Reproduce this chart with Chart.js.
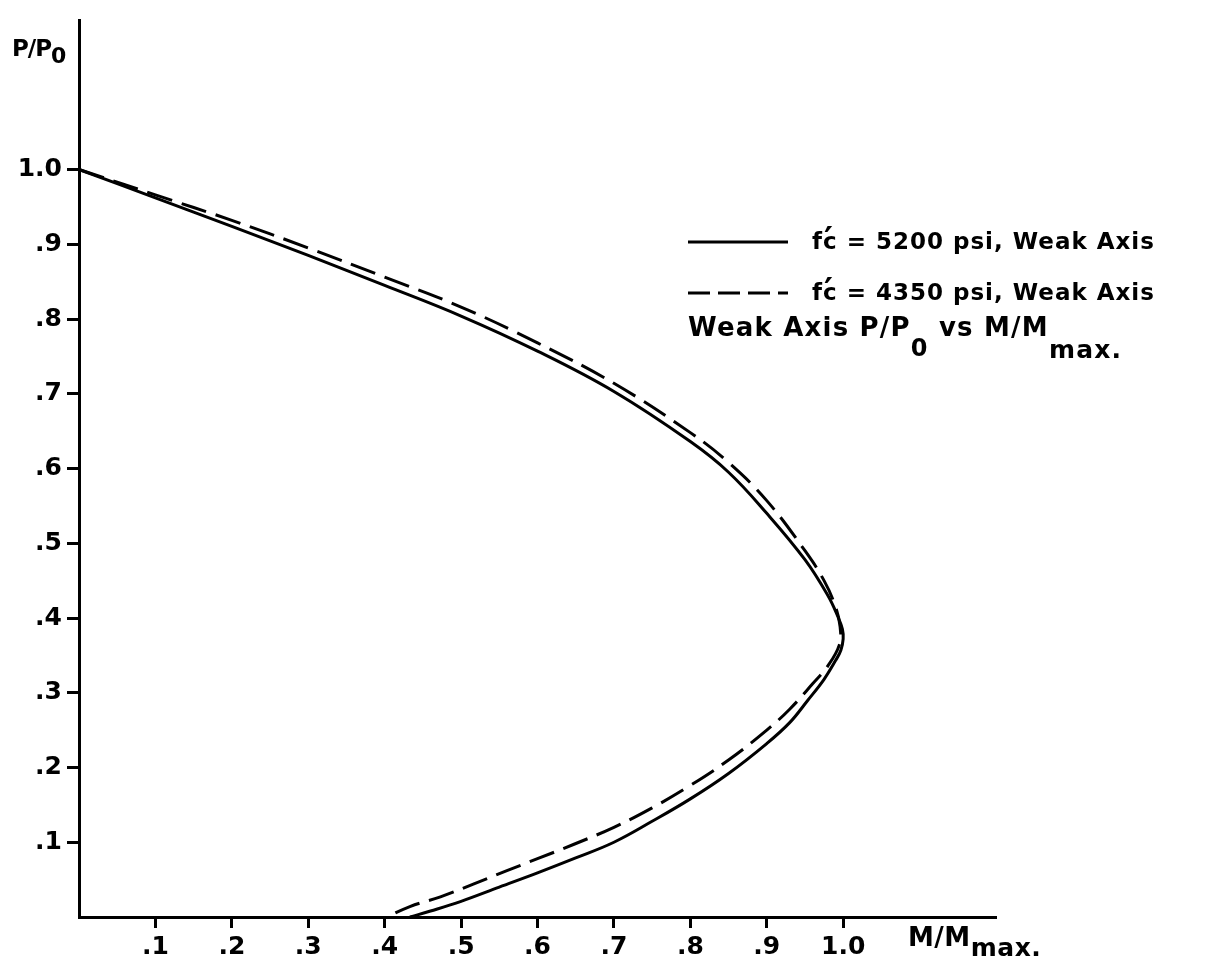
<!DOCTYPE html>
<html><head><meta charset="utf-8">
<script src="https://cdn.jsdelivr.net/npm/chart.js@4.4.1/dist/chart.umd.min.js"></script>
<style>html,body{margin:0;padding:0;background:#fff}#wrap{position:relative;width:1219px;height:963px}</style>
</head><body><div id="wrap"><canvas id="c" width="1219" height="963"></canvas></div>
<script>
// ---- data ----
const solidM  = [0.000, 0.100, 0.200, 0.300, 0.400, 0.500, 0.600, 0.700, 0.800, 0.850, 0.900, 0.950, 0.980, 0.993, 0.999, 1.000, 0.997, 0.990, 0.975, 0.953, 0.930, 0.900, 0.850, 0.800, 0.750, 0.700, 0.650, 0.600, 0.550, 0.500, 0.460, 0.433];
const solidP  = [1.000, 0.962, 0.924, 0.885, 0.845, 0.804, 0.757, 0.703, 0.636, 0.595, 0.540, 0.478, 0.430, 0.402, 0.385, 0.372, 0.357, 0.343, 0.318, 0.289, 0.260, 0.232, 0.192, 0.158, 0.128, 0.100, 0.079, 0.059, 0.040, 0.021, 0.008, 0.000];
const dashedM = [0.000, 0.100, 0.200, 0.300, 0.400, 0.500, 0.600, 0.700, 0.800, 0.850, 0.900, 0.950, 0.975, 0.990, 0.996, 0.995, 0.980, 0.960, 0.930, 0.900, 0.850, 0.800, 0.750, 0.700, 0.647, 0.600, 0.560, 0.516, 0.473, 0.433, 0.403];
const dashedP = [1.000, 0.966, 0.932, 0.895, 0.856, 0.816, 0.768, 0.714, 0.648, 0.608, 0.557, 0.490, 0.450, 0.415, 0.388, 0.364, 0.336, 0.312, 0.278, 0.250, 0.210, 0.176, 0.146, 0.120, 0.097, 0.078, 0.062, 0.044, 0.027, 0.014, 0.000];
const seriesLabels = ['f′c = 5200 psi, Weak Axis', 'f′c = 4350 psi, Weak Axis'];
const tickValues = [0.1, 0.2, 0.3, 0.4, 0.5, 0.6, 0.7, 0.8, 0.9, 1.0];
const xTickLabels = ['.1', '.2', '.3', '.4', '.5', '.6', '.7', '.8', '.9', '1.0'];
const yTickLabels = ['.1', '.2', '.3', '.4', '.5', '.6', '.7', '.8', '.9', '1.0'];
const yTitle = ['P/P', '0'];
const xTitle = ['M/M', 'max.'];
const noteText = ['Weak Axis P/P', '0', ' vs M/M', 'max.'];

const FONT = '"DejaVu Sans", sans-serif';
function toPts(xs, ys) { return xs.map((x, i) => ({ x: x, y: ys[i] })); }
function labelFor(list) {
  return function (v) {
    const i = tickValues.findIndex(t => Math.abs(t - v) < 1e-6);
    return i < 0 ? '' : list[i];
  };
}
function tickCol(ctx) {
  const v = ctx.tick ? ctx.tick.value : 0;
  return tickValues.some(t => Math.abs(t - v) < 1e-6) ? '#000' : 'rgba(0,0,0,0)';
}

function drawRun(ctx, pieces, x, y, spacing) {
  ctx.letterSpacing = spacing + 'px';
  let cx = x;
  for (const p of pieces) {
    ctx.font = 'bold ' + p[2] + 'px ' + FONT;
    ctx.fillText(p[0], cx, y + p[1]);
    cx += ctx.measureText(p[0]).width;
  }
  ctx.letterSpacing = '0px';
  return cx;
}
function drawPrimeLabel(ctx, text, x, y, size, spacing) {
  const parts = text.split('′');
  ctx.letterSpacing = spacing + 'px';
  ctx.font = 'bold ' + size + 'px ' + FONT;
  ctx.fillText(parts[0], x, y);
  const cx = x + ctx.measureText(parts[0]).width;
  ctx.fillText(parts[1], cx, y);
  ctx.letterSpacing = '0px';
  ctx.font = 'bold 34px ' + FONT;
  ctx.fillText('′', cx + 1, y + 2);
}

const textPlugin = {
  id: 'textPlugin',
  afterDraw(chart) {
    const ctx = chart.ctx;
    ctx.save();
    ctx.fillStyle = '#000';
    ctx.textBaseline = 'alphabetic';
    ctx.textAlign = 'left';
    const rows = [242, 293];
    chart.data.datasets.forEach((ds, i) => {
      ctx.save();
      ctx.strokeStyle = ds.borderColor;
      ctx.lineWidth = ds.borderWidth;
      ctx.setLineDash(ds.borderDash ? [22, 8] : []);
      ctx.beginPath();
      ctx.moveTo(688, rows[i]);
      ctx.lineTo(788, rows[i]);
      ctx.stroke();
      ctx.restore();
      drawPrimeLabel(ctx, ds.label, 812, rows[i] + 7, 23, 1);
    });
    drawRun(ctx, [[noteText[0], 0, 26], [noteText[1], 20, 24], [noteText[2], 0, 26], [noteText[3], 22, 25]], 688, 336, 1.2);
    drawRun(ctx, [[yTitle[0], 0, 23], [yTitle[1], 7, 22]], 12, 56, -1);
    drawRun(ctx, [[xTitle[0], 0, 26], [xTitle[1], 10, 25]], 908, 946, 0.5);
    ctx.restore();
  }
};

new Chart(document.getElementById('c'), {
  type: 'scatter',
  data: {
    datasets: [
      { label: seriesLabels[0], data: toPts(solidM, solidP), showLine: true, borderColor: '#000', borderWidth: 3, pointRadius: 0, tension: 0.4, clip: false, fill: false },
      { label: seriesLabels[1], data: toPts(dashedM, dashedP), showLine: true, borderColor: '#000', borderWidth: 3, borderDash: [26, 10], pointRadius: 0, tension: 0.4, clip: false, fill: false }
    ]
  },
  options: {
    responsive: false,
    animation: false,
    events: [],
    layout: { padding: { top: 5, right: 223, left: 0, bottom: 0 } },
    plugins: { legend: { display: false }, tooltip: { enabled: false } },
    scales: {
      x: {
        type: 'linear', min: 0, max: 1.2,
        afterFit: s => { s.height = 46; },
        border: { display: true, color: '#000', width: 3 },
        grid: { display: true, drawOnChartArea: false, drawTicks: true, tickLength: 11, tickWidth: 3, tickColor: tickCol },
        ticks: { stepSize: 0.1, autoSkip: false, maxRotation: 0, padding: 4, color: '#000', font: { family: FONT, size: 25, weight: 'bold' }, callback: labelFor(xTickLabels) }
      },
      y: {
        type: 'linear', min: 0, max: 1.2,
        afterFit: s => { s.width = 79; },
        border: { display: true, color: '#000', width: 3 },
        grid: { display: true, drawOnChartArea: false, drawTicks: true, tickLength: 12, tickWidth: 3, tickColor: tickCol },
        ticks: { stepSize: 0.1, autoSkip: false, padding: 5, color: '#000', font: { family: FONT, size: 25, weight: 'bold' }, callback: labelFor(yTickLabels) }
      }
    }
  },
  plugins: [textPlugin]
});
</script>
</body></html>
